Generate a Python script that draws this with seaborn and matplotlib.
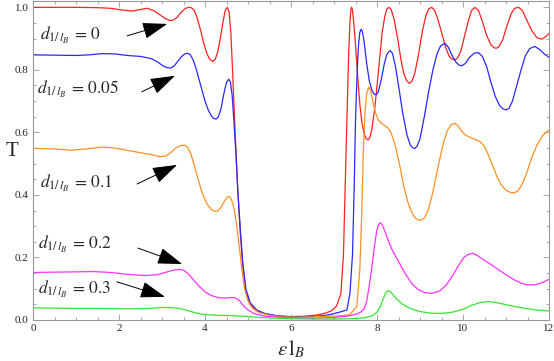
import numpy as np
import pandas as pd
import matplotlib
matplotlib.use('Agg')
import matplotlib.pyplot as plt
from matplotlib.ticker import MultipleLocator, FormatStrFormatter
import seaborn as sns

# values (energy, transmission)
d_values = ['0', '0.05', '0.1', '0.2', '0.3']
colors = ['#ff2020', '#2828ff', '#ff9020', '#ff30ff', '#30e830']

x_d0 = [0, 0.5, 1.0, 1.5, 1.8, 2.05, 2.3, 2.5, 2.65, 2.8, 2.95, 3.08, 3.18, 3.26, 3.35, 3.45, 3.55, 3.62,
        3.68, 3.75, 3.82, 3.9, 3.98, 4.05, 4.11, 4.18, 4.24, 4.3, 4.36, 4.42, 4.47, 4.52, 4.56, 4.6, 4.64,
        4.70, 4.76, 4.82, 4.88, 4.95, 5.05, 5.2, 5.4, 5.7, 6.0, 6.3, 6.6, 6.8, 6.95, 7.06, 7.16, 7.22,
        7.26, 7.30, 7.34, 7.37, 7.39, 7.41, 7.43, 7.46, 7.5, 7.55, 7.6, 7.65, 7.7, 7.75, 7.79, 7.83, 7.88,
        7.95, 8.05, 8.12, 8.18, 8.23, 8.28, 8.33, 8.4, 8.48, 8.56, 8.63, 8.69, 8.75, 8.81, 8.88, 8.96,
        9.05, 9.13, 9.2, 9.27, 9.34, 9.42, 9.5, 9.6, 9.68, 9.75, 9.81, 9.87, 9.95, 10.03, 10.12, 10.2,
        10.28, 10.36, 10.45, 10.55, 10.65, 10.72, 10.77, 10.83, 10.92, 11.02, 11.12, 11.2, 11.29, 11.38,
        11.48, 11.6, 11.72, 11.83, 11.93, 12.0]
t_d0 = [1.0, 1.0, 1.0, 0.999, 0.997, 0.992, 0.988, 0.993, 0.997, 0.99, 0.976, 0.964, 0.958, 0.959, 0.968,
        0.985, 0.997, 1.0, 0.999, 0.99, 0.965, 0.925, 0.88, 0.85, 0.834, 0.827, 0.834, 0.86, 0.905, 0.955,
        0.99, 1.0, 0.985, 0.92, 0.8, 0.6, 0.42, 0.28, 0.17, 0.09, 0.05, 0.03, 0.02, 0.013, 0.011, 0.012,
        0.016, 0.022, 0.03, 0.045, 0.085, 0.21, 0.43, 0.64, 0.85, 0.95, 0.99, 1.0, 0.99, 0.95, 0.88, 0.78,
        0.69, 0.63, 0.595, 0.58, 0.576, 0.582, 0.61, 0.68, 0.82, 0.92, 0.97, 0.995, 1.0, 0.993, 0.96, 0.9,
        0.83, 0.785, 0.765, 0.757, 0.763, 0.79, 0.845, 0.92, 0.97, 0.995, 1.0, 0.99, 0.96, 0.92, 0.87,
        0.843, 0.834, 0.832, 0.837, 0.86, 0.905, 0.955, 0.99, 1.0, 0.99, 0.955, 0.91, 0.88, 0.871, 0.869,
        0.873, 0.895, 0.94, 0.98, 0.997, 1.0, 0.99, 0.96, 0.925, 0.903, 0.898, 0.907, 0.917]

x_d005 = [0, 0.5, 1.0, 1.3, 1.6, 1.9, 2.2, 2.5, 2.75, 2.9, 3.02, 3.12, 3.2, 3.28, 3.36, 3.45, 3.53, 3.6,
          3.66, 3.73, 3.8, 3.9, 4.0, 4.08, 4.15, 4.21, 4.26, 4.31, 4.37, 4.44, 4.5, 4.55, 4.59, 4.63, 4.67,
          4.72, 4.76, 4.82, 4.88, 4.95, 5.05, 5.2, 5.4, 5.7, 6.0, 6.3, 6.6, 6.9, 7.1, 7.30, 7.37, 7.43,
          7.47, 7.50, 7.54, 7.57, 7.6, 7.63, 7.66, 7.7, 7.76, 7.82, 7.88, 7.93, 7.98, 8.03, 8.1, 8.17, 8.23,
          8.3, 8.36, 8.43, 8.5, 8.6, 8.7, 8.78, 8.84, 8.88, 8.93, 9.0, 9.1, 9.2, 9.3, 9.4, 9.48, 9.58, 9.66,
          9.75, 9.84, 9.91, 9.97, 10.05, 10.15, 10.27, 10.36, 10.45, 10.55, 10.65, 10.75, 10.85, 10.93,
          11.0, 11.07, 11.15, 11.25, 11.35, 11.45, 11.55, 11.67, 11.78, 11.9, 12.0]
t_d005 = [0.848, 0.847, 0.846, 0.848, 0.852, 0.851, 0.846, 0.843, 0.836, 0.825, 0.813, 0.807, 0.806, 0.812,
          0.826, 0.842, 0.851, 0.853, 0.848, 0.83, 0.8, 0.75, 0.7, 0.67, 0.652, 0.644, 0.643, 0.65, 0.675,
          0.725, 0.76, 0.77, 0.762, 0.72, 0.64, 0.53, 0.42, 0.29, 0.18, 0.1, 0.055, 0.032, 0.02, 0.013,
          0.01, 0.01, 0.012, 0.017, 0.024, 0.032, 0.085, 0.21, 0.43, 0.64, 0.8, 0.88, 0.92, 0.93, 0.922,
          0.89, 0.82, 0.765, 0.735, 0.723, 0.72, 0.73, 0.77, 0.82, 0.85, 0.862, 0.853, 0.81, 0.75, 0.66,
          0.59, 0.558, 0.55, 0.549, 0.555, 0.58, 0.65, 0.73, 0.8, 0.853, 0.877, 0.885, 0.872, 0.845, 0.824,
          0.815, 0.813, 0.82, 0.84, 0.854, 0.855, 0.843, 0.81, 0.76, 0.715, 0.686, 0.675, 0.672, 0.677, 0.7,
          0.75, 0.8, 0.845, 0.868, 0.875, 0.865, 0.85, 0.84]

x_d01 = [0, 0.5, 0.9, 1.3, 1.6, 1.9, 2.3, 2.7, 2.95, 3.08, 3.2, 3.32, 3.43, 3.53, 3.6, 3.68, 3.76, 3.85,
         3.95, 4.05, 4.15, 4.23, 4.3, 4.37, 4.45, 4.52, 4.57, 4.61, 4.65, 4.69, 4.74, 4.8, 4.86, 4.92, 5.0,
         5.1, 5.25, 5.5, 5.8, 6.1, 6.5, 6.9, 7.2, 7.37, 7.53, 7.6, 7.64, 7.68, 7.72, 7.76, 7.81, 7.85, 7.9,
         7.96, 8.03, 8.12, 8.2, 8.26, 8.33, 8.42, 8.52, 8.62, 8.72, 8.82, 8.9, 8.97, 9.04, 9.11, 9.2, 9.3,
         9.42, 9.54, 9.64, 9.73, 9.81, 9.88, 9.96, 10.05, 10.18, 10.3, 10.4, 10.5, 10.6, 10.7, 10.8, 10.9,
         11.0, 11.1, 11.19, 11.27, 11.36, 11.48, 11.6, 11.72, 11.85, 12.0]
t_d01 = [0.549, 0.547, 0.543, 0.548, 0.553, 0.55, 0.54, 0.53, 0.523, 0.524, 0.535, 0.55, 0.558, 0.559,
         0.552, 0.528, 0.49, 0.445, 0.4, 0.37, 0.353, 0.347, 0.349, 0.36, 0.38, 0.393, 0.395, 0.387, 0.37,
         0.345, 0.3, 0.23, 0.16, 0.1, 0.06, 0.038, 0.024, 0.015, 0.01, 0.009, 0.01, 0.012, 0.014, 0.018,
         0.043, 0.16, 0.32, 0.53, 0.66, 0.725, 0.745, 0.735, 0.7, 0.665, 0.64, 0.627, 0.62, 0.613, 0.598,
         0.56, 0.5, 0.43, 0.375, 0.34, 0.325, 0.319, 0.32, 0.328, 0.355, 0.41, 0.49, 0.565, 0.607, 0.625,
         0.629, 0.622, 0.605, 0.592, 0.583, 0.577, 0.57, 0.555, 0.525, 0.49, 0.455, 0.43, 0.415, 0.408,
         0.407, 0.412, 0.43, 0.47, 0.52, 0.56, 0.59, 0.608]

x_d02 = [0, 0.5, 1.0, 1.4, 1.8, 2.2, 2.6, 2.9, 3.1, 3.25, 3.42, 3.52, 3.62, 3.72, 3.85, 4.0, 4.15, 4.3,
         4.45, 4.6, 4.7, 4.8, 4.9, 5.0, 5.15, 5.4, 5.8, 6.2, 6.6, 7.0, 7.3, 7.5, 7.62, 7.7, 7.76, 7.82,
         7.88, 7.94, 7.99, 8.03, 8.07, 8.11, 8.16, 8.24, 8.35, 8.5, 8.65, 8.8, 8.95, 9.1, 9.27, 9.45, 9.6,
         9.75, 9.9, 10.02, 10.12, 10.23, 10.33, 10.45, 10.6, 10.8, 11.0, 11.2, 11.35, 11.48, 11.6, 11.72,
         11.85, 12.0]
t_d02 = [0.152, 0.153, 0.154, 0.155, 0.152, 0.146, 0.142, 0.145, 0.153, 0.159, 0.162, 0.158, 0.146, 0.13,
         0.11, 0.09, 0.078, 0.072, 0.07, 0.072, 0.071, 0.062, 0.045, 0.032, 0.02, 0.012, 0.008, 0.006,
         0.006, 0.008, 0.012, 0.018, 0.025, 0.035, 0.06, 0.11, 0.17, 0.235, 0.283, 0.303, 0.311, 0.307,
         0.292, 0.262, 0.225, 0.187, 0.15, 0.118, 0.098, 0.088, 0.085, 0.092, 0.11, 0.14, 0.175, 0.2, 0.21,
         0.213, 0.207, 0.195, 0.182, 0.163, 0.145, 0.128, 0.118, 0.113, 0.112, 0.114, 0.12, 0.13]

x_d03 = [0, 0.5, 1.0, 1.5, 2.0, 2.5, 2.8, 3.0, 3.2, 3.4, 3.6, 3.8, 4.0, 4.3, 4.6, 4.9, 5.2, 5.6, 6.0,
         6.5, 7.0, 7.4, 7.7, 7.9, 8.0, 8.08, 8.15, 8.2, 8.23, 8.26, 8.3, 8.36, 8.45, 8.6, 8.77, 9.0, 9.25,
         9.5, 9.75, 10.0, 10.2, 10.4, 10.59, 10.8, 11.1, 11.4, 11.7, 12.0]
t_d03 = [0.039, 0.038, 0.037, 0.037, 0.036, 0.036, 0.038, 0.04, 0.04, 0.037, 0.03, 0.022, 0.017, 0.015,
         0.014, 0.012, 0.009, 0.006, 0.004, 0.003, 0.003, 0.004, 0.007, 0.014, 0.025, 0.045, 0.07, 0.086,
         0.091, 0.094, 0.092, 0.083, 0.068, 0.05, 0.037, 0.027, 0.022, 0.021, 0.025, 0.034, 0.047, 0.056,
         0.059, 0.055, 0.046, 0.038, 0.032, 0.029]

xs = [x_d0, x_d005, x_d01, x_d02, x_d03]
ts = [t_d0, t_d005, t_d01, t_d02, t_d03]
df = pd.concat([pd.DataFrame({'E': x, 'T': t, 'd': d}) for x, t, d in zip(xs, ts, d_values)],
               ignore_index=True)

sns.set_style('ticks')
plt.rcParams['font.family'] = ['Liberation Serif', 'DejaVu Serif']
plt.rcParams['mathtext.fontset'] = 'stix'

fig = plt.figure(figsize=(5.54, 3.61), dpi=100)
ax = fig.add_axes([0.0596, 0.1136, 0.9314, 0.8834])
sns.lineplot(data=df, x='E', y='T', hue='d', palette=colors, hue_order=d_values,
             estimator=None, sort=False, legend=False, linewidth=0.9, ax=ax)

ax.set_xlim(0, 12)
ax.set_ylim(0, 1.02)
ax.xaxis.set_major_locator(MultipleLocator(2))
ax.xaxis.set_minor_locator(MultipleLocator(0.5))
ax.yaxis.set_major_locator(MultipleLocator(0.2))
ax.yaxis.set_minor_locator(MultipleLocator(0.05))
ax.xaxis.set_major_formatter(FormatStrFormatter('%d'))
ax.yaxis.set_major_formatter(FormatStrFormatter('%.1f'))
ax.tick_params(which='both', direction='in', top=True, right=True, color='#999999',
               labelsize=8, width=0.6, pad=3)
ax.tick_params(which='major', length=4.5)
ax.tick_params(which='minor', length=2.5)
for s in ax.spines.values():
    s.set_color('#999999')
    s.set_linewidth(0.8)

ax.set_xlabel(r'$\epsilon\,\mathrm{l}_B$', fontsize=15, labelpad=4)
ax.set_ylabel('T', fontsize=15, rotation=0, labelpad=8)
ax.yaxis.set_label_coords(-0.04, 0.5)

# labels with arrows: (text left edge, arrow tail, arrow tip)
labels = [((0.16, 0.909), (2.19, 0.909), (3.12, 0.947)),
          ((0.09, 0.736), (2.53, 0.730), (3.30, 0.781)),
          ((0.16, 0.438), (2.42, 0.435), (3.35, 0.496)),
          ((0.12, 0.243), (2.44, 0.230), (3.47, 0.179)),
          ((0.12, 0.099), (1.95, 0.122), (3.07, 0.074))]
for d, (tp, tail, tip) in zip(d_values, labels):
    ax.text(tp[0], tp[1], r'$d_{1/\,l_B}\, =\, \mathrm{' + d + '}$', fontsize=12.5,
            ha='left', va='center')
    ax.annotate('', xy=tip, xytext=tail,
                arrowprops=dict(arrowstyle='-|>,head_length=1.2,head_width=0.4',
                                color='black', lw=0.7, mutation_scale=13,
                                shrinkA=0, shrinkB=0))

fig.savefig('out.png', dpi=100)
